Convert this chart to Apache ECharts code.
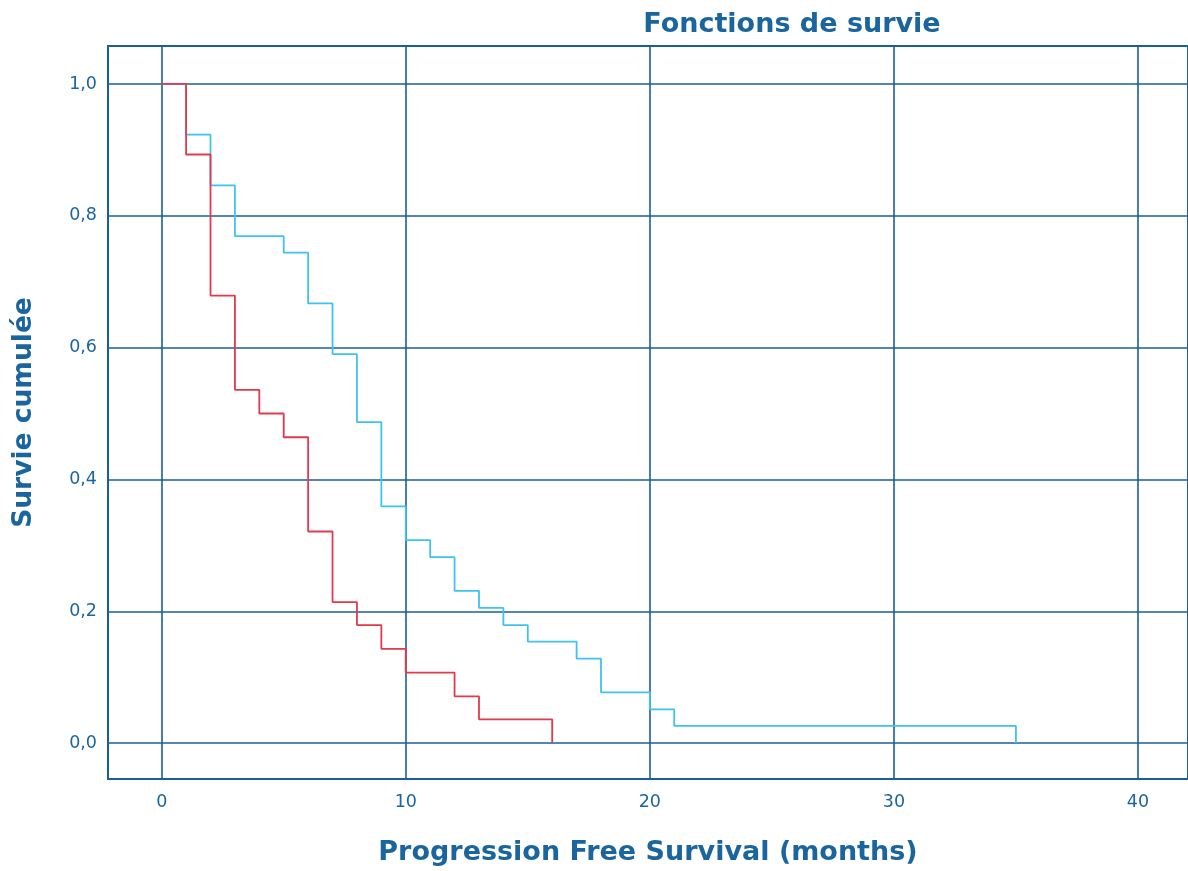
<!DOCTYPE html>
<html>
<head>
<meta charset="utf-8">
<script src="https://cdn.jsdelivr.net/npm/echarts@6/dist/echarts.min.js"></script>
<style>
html,body{margin:0;padding:0;background:#fff;}
#chart{width:1188px;height:871px;}
</style>
</head>
<body>
<div id="chart"></div>
<script>
// Kaplan-Meier step points [months, cumulative survival]
const blueTimes  = [0, 1, 2, 3, 5, 6, 7, 8, 9, 10, 11, 12, 13, 14, 15, 17, 18, 20, 21, 35];
const blueValues = [1.0, 0.923, 0.846, 0.769, 0.744, 0.667, 0.590, 0.487, 0.359, 0.308, 0.282, 0.231, 0.205, 0.179, 0.154, 0.128, 0.077, 0.051, 0.026, 0.0];
const redTimes   = [0, 1, 2, 3, 4, 5, 6, 7, 8, 9, 10, 12, 13, 16];
const redValues  = [1.0, 0.893, 0.679, 0.536, 0.500, 0.464, 0.321, 0.214, 0.179, 0.143, 0.107, 0.071, 0.036, 0.0];
const xTicks = [0, 10, 20, 30, 40];
const yTicks = [0, 0.2, 0.4, 0.6, 0.8, 1.0];

const TXT = '#1b659e';
const GRID = '#1a5f98';
const TFONT = '"DejaVu Sans", sans-serif';
const LFONT = '"DejaVu Sans", sans-serif';

function pairs(t, v) { return t.map((x, i) => [x, v[i]]); }

const chart = echarts.init(document.getElementById('chart'), null, {renderer: 'canvas'});
chart.setOption({
  animation: false,
  backgroundColor: '#fff',
  title: {
    text: 'Fonctions de survie',
    left: 787, top: 6, textAlign: 'center',
    textStyle: {color: TXT, fontFamily: TFONT, fontWeight: 'bold', fontSize: 27}
  },
  grid: {
    left: 108, top: 46, right: 0, bottom: 91,
    show: true, borderColor: GRID, borderWidth: 2, backgroundColor: '#fff'
  },
  xAxis: {
    type: 'value', min: -2.2, max: 42.05,
    name: 'Progression Free Survival (months)',
    nameLocation: 'middle', nameGap: 60,
    nameTextStyle: {color: TXT, fontFamily: TFONT, fontWeight: 'bold', fontSize: 27},
    axisLine: {show: false},
    axisTick: {show: false, customValues: xTicks},
    axisLabel: {customValues: xTicks, color: TXT, fontFamily: LFONT, fontSize: 17.5, margin: 14},
    splitLine: {show: true, lineStyle: {color: GRID, width: 1.6}}
  },
  yAxis: {
    type: 'value', min: -0.0545, max: 1.0576,
    name: 'Survie cumulée',
    nameLocation: 'middle', nameGap: 70,
    nameTextStyle: {color: TXT, fontFamily: TFONT, fontWeight: 'bold', fontSize: 26.5},
    axisLine: {show: false},
    axisTick: {show: false, customValues: yTicks},
    axisLabel: {customValues: yTicks, color: TXT, fontFamily: LFONT, fontSize: 17.5, margin: 11,
      formatter: v => v.toFixed(1).replace('.', ',')},
    splitLine: {show: true, lineStyle: {color: GRID, width: 1.6}}
  },
  series: [
    {
      type: 'line', step: 'end', showSymbol: false, symbol: 'none',
      data: pairs(blueTimes, blueValues),
      lineStyle: {color: '#3ec3f0', width: 1.8}, z: 3
    },
    {
      type: 'line', step: 'end', showSymbol: false, symbol: 'none',
      data: pairs(redTimes, redValues),
      lineStyle: {color: '#e03a4c', width: 1.8}, z: 4
    }
  ]
});
</script>
</body>
</html>
